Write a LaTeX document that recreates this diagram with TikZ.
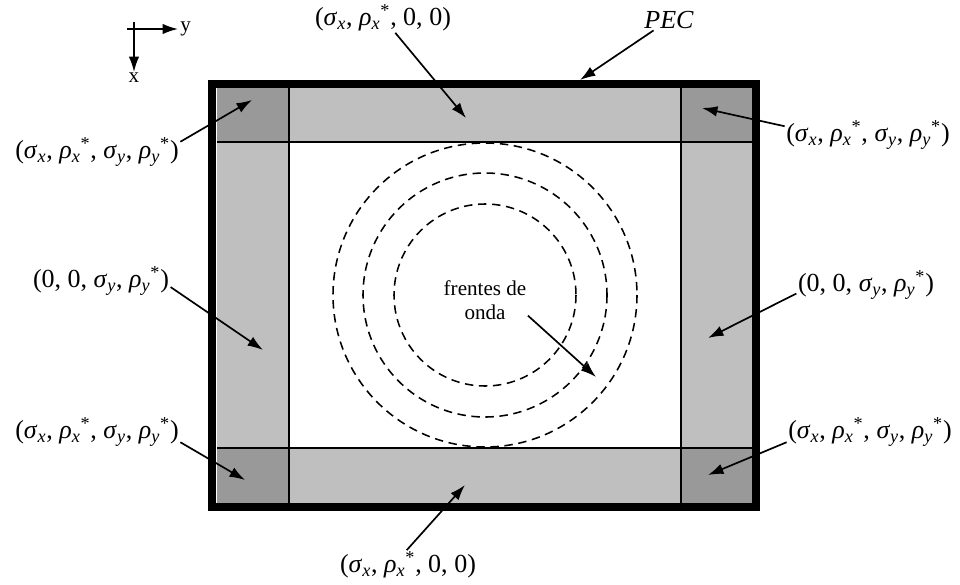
\documentclass[tikz,border=0pt]{standalone}
\usepackage{fontspec}
\setmainfont{Liberation Serif}
\usetikzlibrary{arrows.meta}

\newcommand{\sgm}[1]{\textit{σ}\textsubscript{\textit{#1}}}
\newcommand{\rhst}[1]{\textit{ρ}\textsubscript{\textit{#1}}\textsuperscript{*}}
\definecolor{cornergray}{gray}{0.6}
\definecolor{stripgray}{gray}{0.75}

\begin{document}
\begin{tikzpicture}[x=0.025cm,y=-0.025cm,>={Latex[length=11pt,width=7.5pt]},
  every node/.style={font=\fontsize{18.5}{21}\selectfont,inner sep=1pt},
  callout/.style={->,line width=1.2pt},
  wave/.style={dash pattern=on 6pt off 4pt,line width=1.1pt}]
  \useasboundingbox (0,0) rectangle (960,585);
  % absorbing layers
  \fill[stripgray] (217,88) rectangle (753,503);
  \fill[white] (289,142) rectangle (681,448);
  \fill[cornergray] (217,88) rectangle (289,142) (681,88) rectangle (753,142)
    (217,448) rectangle (289,503) (681,448) rectangle (753,503);
  \draw[line width=1pt] (289,88) -- (289,503) (681,88) -- (681,503)
    (217,142) -- (753,142) (217,448) -- (753,448);
  % PEC wall
  \draw[line width=5.5pt] (212,84) rectangle (756,507);
  % wave fronts
  \foreach \r in {91,122,152}
    \draw[wave] (485,295) circle (\r);

  % axes
  \draw[->,line width=1.2pt] (127,29) -- (178,29)
    node[right,font=\fontsize{15}{17}\selectfont] (yAx) {y};
  \draw[->,line width=1.2pt] (134,22) -- (134,72)
    node[below,inner sep=0pt,font=\fontsize{15}{17}\selectfont] (xAx) {x};

  % targets
  \coordinate (topStrip) at (466,118);
  \coordinate (pecWall) at (580,80);
  \coordinate (tlCorner) at (252,100);
  \coordinate (trCorner) at (702,108);
  \coordinate (leftStrip) at (263,350);
  \coordinate (rightStrip) at (708,338);
  \coordinate (blCorner) at (245,480);
  \coordinate (brCorner) at (708,475);
  \coordinate (botStrip) at (465,485);
  \coordinate (waveFront) at (596,377);

  % labels
  \node (topLab) at (383,18) {(\sgm{x}, \rhst{x}, 0, 0)};
  \node[font=\fontsize{18.5}{21}\selectfont\itshape] (pecLab) at (669,20) {PEC};
  \node (tlLab) at (97,152) {(\sgm{x}, \rhst{x}, \sgm{y}, \rhst{y})};
  \node (trLab) at (868,135) {(\sgm{x}, \rhst{x}, \sgm{y}, \rhst{y})};
  \node (midLLab) at (101,281) {(0, 0, \sgm{y}, \rhst{y})};
  \node (midRLab) at (866,285) {(0, 0, \sgm{y}, \rhst{y})};
  \node (blLab) at (97,432) {(\sgm{x}, \rhst{x}, \sgm{y}, \rhst{y})};
  \node (brLab) at (870,432) {(\sgm{x}, \rhst{x}, \sgm{y}, \rhst{y})};
  \node (botLab) at (408,565) {(\sgm{x}, \rhst{x}, 0, 0)};
  \node[align=center,font=\fontsize{15}{17}\selectfont] (frontLab) at (485,300)
    {frentes de\\onda};

  % callouts
  \draw[callout] (topLab) -- (topStrip);
  \draw[callout] (pecLab) -- (pecWall);
  \draw[callout] (tlLab.7) -- (tlCorner);
  \draw[callout] (trLab.174) -- (trCorner);
  \draw[callout] (midLLab.-5) -- (leftStrip);
  \draw[callout] (midRLab.187) -- (rightStrip);
  \draw[callout] (blLab.-7) -- (blCorner);
  \draw[callout] (brLab.187) -- (brCorner);
  \draw[callout] (botLab.95) -- (botStrip);
  \draw[callout] (frontLab.-20) -- (waveFront);
\end{tikzpicture}
\end{document}
